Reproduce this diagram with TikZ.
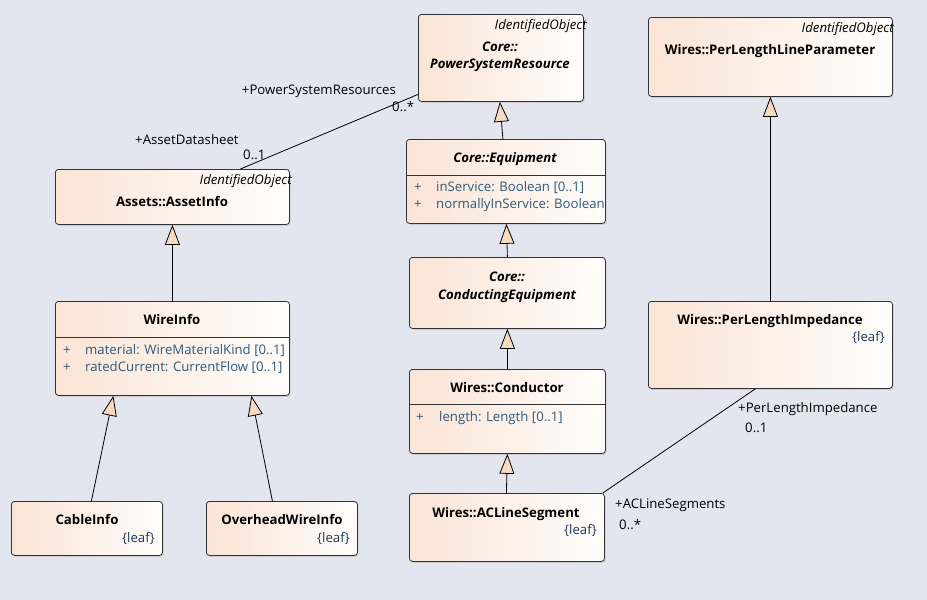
\documentclass[tikz,border=0pt]{standalone}
\usepackage{fontspec}
\setmainfont{Open Sans}
\usetikzlibrary{arrows.meta,shadows}
\definecolor{bg}{HTML}{E3E6EE}
\definecolor{peach}{HTML}{FAE4D5}
\definecolor{cream}{HTML}{FFFDFB}
\definecolor{attr}{HTML}{2D5B7E}
\definecolor{leafc}{HTML}{1E3A5C}
\definecolor{tri}{HTML}{F8DBBE}
\newcommand\ubox[5]{\node[umlbox, minimum width={(#4-#2)*1pt}, minimum height={(#5-#3)*1pt}] (#1) at (#2,#3) {};}
\begin{document}
\begin{tikzpicture}[x=1pt,y=-1pt,
  umlbox/.style={draw=black!80, line width=0.8pt, rounded corners=3pt, left color=peach, right color=cream, inner sep=0pt, anchor=north west,
    drop shadow={shadow xshift=1.2pt, shadow yshift=-1.5pt, opacity=0.25}},
  txt/.style={inner sep=0pt, font=\fontsize{13.2}{15}\selectfont, text height=1.8ex, text depth=.2ex},
  ttl/.style={txt, font=\fontsize{13.2}{15}\selectfont\bfseries},
  ittl/.style={txt, font=\fontsize{13.2}{15}\selectfont\bfseries\itshape},
  stereo/.style={txt, font=\fontsize{13.2}{15}\selectfont\itshape, anchor=east},
  att/.style={txt, text=attr, anchor=west},
  leaf/.style={txt, text=leafc, anchor=east},
  lbl/.style={txt, anchor=west},
  gen/.style={draw=black, line width=0.8pt, -{Triangle[open, length=20pt, width=15pt, fill=tri]}},
  assoc/.style={draw=black, line width=0.8pt}
]
\fill[bg] (0,0) rectangle (927,600);
\useasboundingbox (0,0) rectangle (927,600);

% boxes
\ubox{psr}{418}{14}{583}{101}
\ubox{pllp}{648}{17}{892}{96}
\ubox{eq}{406}{139}{605}{223}
\ubox{ai}{55}{169}{289}{224}
\ubox{wi}{55}{301}{289}{395}
\ubox{ce}{409}{257}{605}{328}
\ubox{cond}{409}{369}{605}{453}
\ubox{acl}{409}{493}{604}{561}
\ubox{pli}{648}{301}{892}{388}
\ubox{cable}{11}{501}{162}{555}
\ubox{ohw}{206}{501}{357}{555}

% separators
\draw[line width=0.8pt, black!80] ([yshift=-36pt]eq.north west) -- ([yshift=-36pt]eq.north east);
\draw[line width=0.8pt, black!80] ([yshift=-36pt]wi.north west) -- ([yshift=-36pt]wi.north east);
\draw[line width=0.8pt, black!80] ([yshift=-35pt]cond.north west) -- ([yshift=-35pt]cond.north east);

% texts
\node[stereo] (psrS) at (587,25) {IdentifiedObject};
\node[ittl] (psrT1) at (500,47) {Core::};
\node[ittl] (psrT2) at (500,64) {PowerSystemResource};

\node[stereo] (pllpS) at (894,28) {IdentifiedObject};
\node[ttl] (pllpT) at (770,50) {Wires::PerLengthLineParameter};

\node[ittl] (eqT) at (505,158) {Core::Equipment};
\node[att] (eqP1) at (414,187) {+};
\node[att] (eqA1) at (436,187) {inService: Boolean [0..1]};
\node[att] (eqP2) at (414,204) {+};
\node[att] (eqA2) at (436,204) {normallyInService: Boolean};

\node[stereo] (aiS) at (292,180) {IdentifiedObject};
\node[ttl] (aiT) at (172,202) {Assets::AssetInfo};

\node[ttl] (wiT) at (172,320) {WireInfo};
\node[att] (wiP1) at (63,350) {+};
\node[att] (wiA1) at (85,350) {material: WireMaterialKind [0..1]};
\node[att] (wiP2) at (63,367) {+};
\node[att] (wiA2) at (85,367) {ratedCurrent: CurrentFlow [0..1]};

\node[ittl] (ceT1) at (507,277) {Core::};
\node[ittl] (ceT2) at (507,295) {ConductingEquipment};

\node[ttl] (condT) at (507,388) {Wires::Conductor};
\node[att] (condP1) at (416,417) {+};
\node[att] (condA1) at (439,417) {length: Length [0..1]};

\node[ttl] (aclT) at (506,513) {Wires::ACLineSegment};
\node[leaf] (aclL) at (597,530) {\{leaf\}};

\node[ttl] (pliT) at (770,320) {Wires::PerLengthImpedance};
\node[leaf] (pliL) at (885,337) {\{leaf\}};

\node[ttl] (cableT) at (87,520) {CableInfo};
\node[leaf] (cableL) at (155,538) {\{leaf\}};
\node[ttl] (ohwT) at (282,520) {OverheadWireInfo};
\node[leaf] (ohwL) at (350,538) {\{leaf\}};

% generalizations
\draw[gen] ([xshift=-3pt]eq.north) -- ([xshift=-1pt]psr.south);
\draw[gen] (ce.north) -- ([xshift=0.5pt]eq.south);
\draw[gen] (cond.north) -- (ce.south);
\draw[gen] ([xshift=-0.5pt]acl.north) -- (cond.south);
\draw[gen] (wi.north) -- (ai.south);
\draw[gen] ([xshift=4.5pt]cable.north) -- ([xshift=-59pt]wi.south);
\draw[gen] ([xshift=-9.5pt]ohw.north) -- ([xshift=79pt]wi.south);
\draw[gen] (pli.north) -- (pllp.south);

% associations
\draw[assoc] ([yshift=-36.5pt]psr.west) -- ([xshift=68pt]ai.north);
\draw[assoc] ([xshift=-15pt]pli.south) -- ([xshift=-2pt]acl.north east);

% association labels
\node[txt, anchor=east] (l1) at (396,90) {+PowerSystemResources};
\node[lbl] (l2) at (392,107) {0..*};
\node[lbl] (l3) at (135,140) {+AssetDatasheet};
\node[lbl] (l4) at (243,155) {0..1};
\node[lbl] (l5) at (738,408) {+PerLengthImpedance};
\node[lbl] (l6) at (745,428) {0..1};
\node[lbl] (l7) at (615,504) {+ACLineSegments};
\node[lbl] (l8) at (619,525) {0..*};
\end{tikzpicture}
\end{document}
